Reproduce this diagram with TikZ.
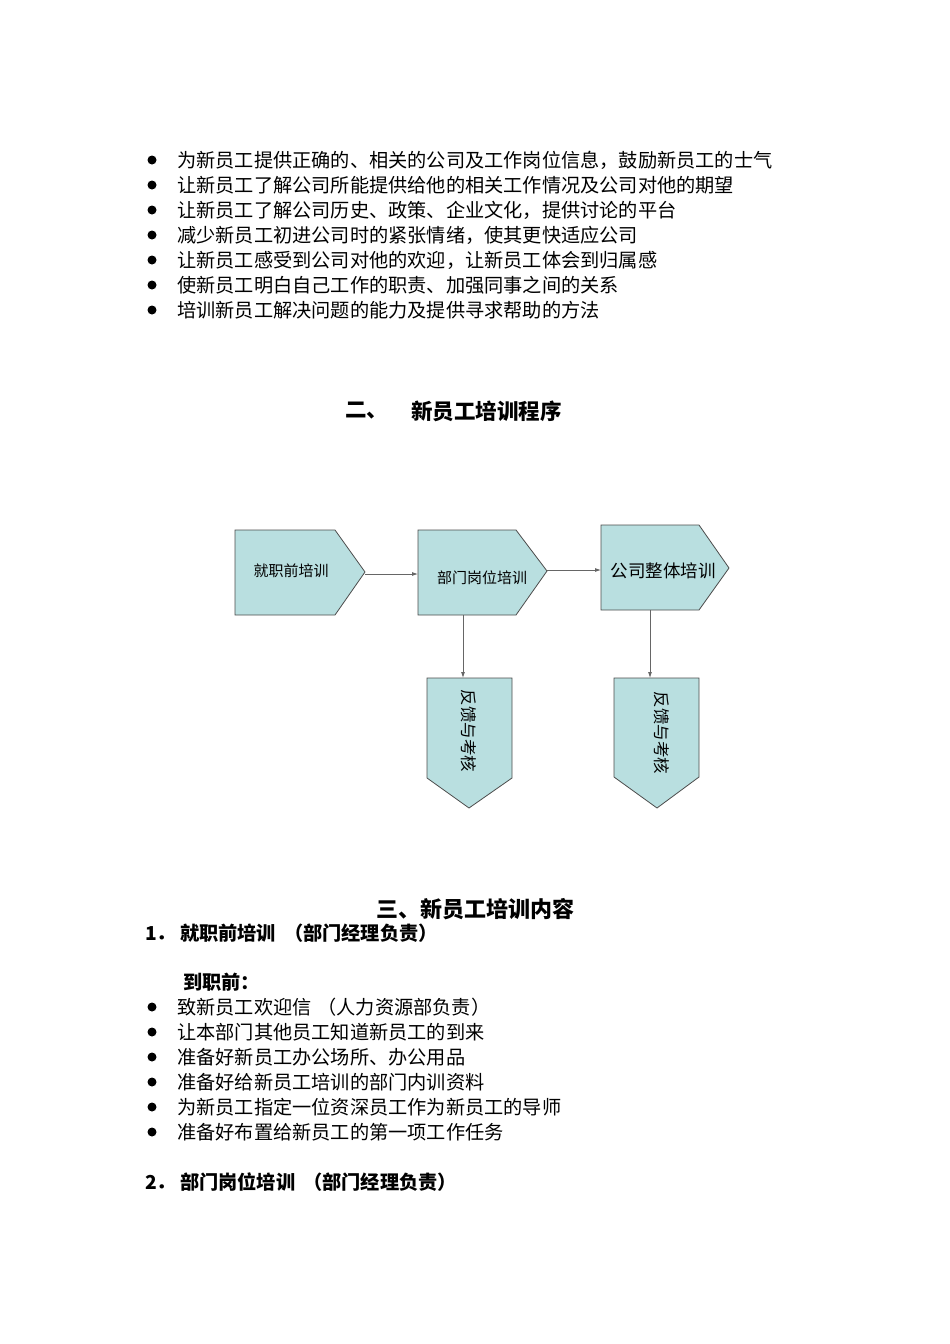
\documentclass[tikz,border=0pt]{standalone}
\usepackage{fontspec}
\newfontfamily\cjk{Noto Sans CJK SC}
\usetikzlibrary{arrows.meta}
\definecolor{boxfill}{HTML}{B9DFE0}
\tikzset{
  txt/.style={anchor=west,inner sep=0pt,font=\cjk\fontsize{19.2}{22}\selectfont},
  hd/.style={anchor=west,inner sep=0pt,font=\cjk\bfseries\fontsize{19.2}{22}\selectfont},
  bul/.style={circle,fill=black,inner sep=0pt,minimum size=9pt},
  shp/.style={fill=boxfill,draw=black!70,line width=0.8pt},
  lbl/.style={font=\cjk\fontsize{15}{18}\selectfont,inner sep=0pt},
  con/.style={draw=black!60,line width=0.8pt,-{Latex[length=6pt,width=4pt]}}
}
\begin{document}
\begin{tikzpicture}[x=1pt,y=-1pt]
\useasboundingbox (0,0) rectangle (950,1344);
\foreach \t [count=\i] in {为新员工提供正确的、相关的公司及工作岗位信息，鼓励新员工的士气,让新员工了解公司所能提供给他的相关工作情况及公司对他的期望,让新员工了解公司历史、政策、企业文化，提供讨论的平台,减少新员工初进公司时的紧张情绪，使其更快适应公司,让新员工感受到公司对他的欢迎，让新员工体会到归属感,使新员工明白自己工作的职责、加强同事之间的关系,培训新员工解决问题的能力及提供寻求帮助的方法}{
  \node[bul] (b\i) at (152,{135+25*\i}) {};
  \node[txt] (t\i) at (177,{135+25*\i}) {\t};
}
\node[hd,font=\cjk\bfseries\fontsize{21.5}{24}\selectfont] (h2a) at (345,411) {二、};
\node[hd,font=\cjk\bfseries\fontsize{21.5}{24}\selectfont] (h2b) at (411,411) {新员工培训程序};
% flowchart
\draw[shp] (235,530) -- (335,530) -- (365,572) -- (335,615) -- (235,615) -- cycle;
\node[lbl] (p1) at (291,571) {就职前培训};
\draw[shp] (418,530) -- (516,530) -- (547,571) -- (516,615) -- (418,615) -- cycle;
\node[lbl] (p2) at (482,578) {部门岗位培训};
\draw[shp] (601,525) -- (699,525) -- (729,568) -- (699,610) -- (601,610) -- cycle;
\node[lbl,font=\cjk\fontsize{17.5}{20}\selectfont] (p3) at (663,571) {公司整体培训};
\draw[shp] (427,678) -- (512,678) -- (512,778) -- (469,808) -- (427,778) -- cycle;
\node[lbl,rotate=-90,font=\cjk\fontsize{16.5}{20}\selectfont] (f1) at (469,731) {反馈与考核};
\draw[shp] (614,678) -- (699,678) -- (699,777) -- (657,808) -- (614,777) -- cycle;
\node[lbl,rotate=-90,font=\cjk\fontsize{16.5}{20}\selectfont] (f2) at (662,733) {反馈与考核};
\coordinate (a1s) at (365,574); \coordinate (a1e) at (418,574);
\coordinate (a2s) at (547,570); \coordinate (a2e) at (601,570);
\coordinate (a3s) at (463,615); \coordinate (a3e) at (463,678);
\coordinate (a4s) at (650,610); \coordinate (a4e) at (650,678);
\draw[con] (a1s) -- (a1e);
\draw[con] (a2s) -- (a2e);
\draw[con] (a3s) -- (a3e);
\draw[con] (a4s) -- (a4e);
% section 3
\node[hd,anchor=center,font=\cjk\bfseries\fontsize{22}{25}\selectfont] (h3) at (475,909) {三、新员工培训内容};
\node[hd] (s1) at (145,933) {1．\hspace{4pt}就职前培训\hspace{8pt}（部门经理负责）};
\node[hd] (s1a) at (183,982) {到职前：};
\foreach \t [count=\i] in {致新员工欢迎信\hspace{6pt}（人力资源部负责）,让本部门其他员工知道新员工的到来,准备好新员工办公场所、办公用品,准备好给新员工培训的部门内训资料,为新员工指定一位资深员工作为新员工的导师,准备好布置给新员工的第一项工作任务}{
  \node[bul] (c\i) at (152,{982+25*\i}) {};
  \node[txt] (u\i) at (177,{982+25*\i}) {\t};
}
\node[hd] (s2) at (145,1182) {2．\hspace{4pt}部门岗位培训\hspace{8pt}（部门经理负责）};
\end{tikzpicture}
\end{document}
